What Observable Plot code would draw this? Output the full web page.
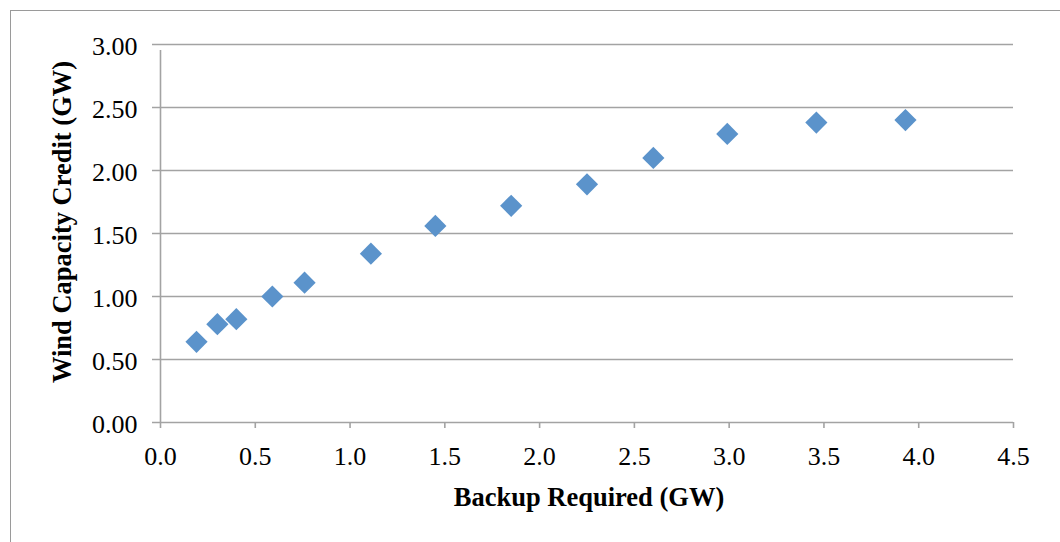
<!DOCTYPE html>
<html>
<head>
<meta charset="utf-8">
<script src="https://cdn.jsdelivr.net/npm/d3@7"></script>
<script src="https://cdn.jsdelivr.net/npm/@observablehq/plot@0.6"></script>
<style>
  html, body { margin: 0; padding: 0; background: #fff; overflow: hidden; }
  #wrap { position: relative; width: 1060px; height: 542px; }
  #border { position: absolute; left: 10px; top: 10px; width: 1200px; height: 700px;
            border-left: 1px solid #9a9a9a; border-top: 1px solid #9a9a9a; pointer-events: none; }
  #ytitle { position: absolute; left: 62px; top: 222px; transform: translate(-50%, -50%) rotate(-90deg);
            white-space: nowrap; font-family: "Liberation Serif", "Times New Roman", serif;
            font-size: 26.5px; font-weight: bold; color: #000; line-height: 1; }
  svg { font-family: "Liberation Serif", "Times New Roman", serif; }
</style>
</head>
<body>
<div id="wrap"><div id="border"></div><div id="ytitle"></div></div>
<script>
// Data
const backupRequired = [0.19, 0.30, 0.40, 0.59, 0.76, 1.11, 1.45, 1.85, 2.25, 2.60, 2.99, 3.46, 3.93];
const windCredit     = [0.64, 0.78, 0.82, 1.00, 1.11, 1.34, 1.56, 1.72, 1.89, 2.10, 2.29, 2.38, 2.40];
const xTicks = [0, 0.5, 1, 1.5, 2, 2.5, 3, 3.5, 4, 4.5];
const yTicks = [0, 0.5, 1, 1.5, 2, 2.5, 3];
const xTitle = "Backup Required (GW)";
const yTitle = "Wind Capacity Credit (GW)";

const points = backupRequired.map((x, i) => ({x, y: windCredit[i]}));
const gridColor = "#a3a3a3";

const chart = Plot.plot({
  width: 1060,
  height: 542,
  marginLeft: 160,
  marginRight: 47,
  marginTop: 44,
  marginBottom: 120,
  style: {fontFamily: "'Liberation Serif', 'Times New Roman', serif", background: "transparent"},
  x: {domain: [0, 4.5], axis: null},
  y: {domain: [0, 3], axis: null},
  marks: [
    // horizontal gridlines (extend left as tick marks)
    Plot.ruleY(yTicks, {y: d => d, x1: 0, x2: 4.5, insetLeft: -8, stroke: gridColor, strokeWidth: 1.6}),
    // y axis line
    Plot.ruleX([0], {x: d => d, y1: 0, y2: 3, insetBottom: -6, stroke: gridColor, strokeWidth: 1.6}),
    // x tick marks
    Plot.ruleX(xTicks, {x: d => d, y1: 0, y2: 0, insetBottom: -6, stroke: gridColor, strokeWidth: 1.6}),
    // y tick labels
    Plot.text(yTicks, {x: 0, y: d => d, text: d => d3.format(".2f")(d), textAnchor: "end", dx: -23, dy: 2, fontSize: 26, fill: "#000"}),
    // x tick labels
    Plot.text(xTicks, {x: d => d, y: 0, text: d => d3.format(".1f")(d), dy: 34, fontSize: 26, fill: "#000"}),
    // points
    Plot.dot(points, {x: "x", y: "y", symbol: "diamond2", r: 10, fill: "#5B93CB", stroke: "none"}),
    // x axis title
    Plot.text([xTitle], {frameAnchor: "bottom", text: d => d, dx: 2, dy: 83, fontSize: 26.5, fontWeight: "bold", fill: "#000"})
  ]
});
document.getElementById("wrap").prepend(chart);
document.getElementById("ytitle").textContent = yTitle;
</script>
</body>
</html>
